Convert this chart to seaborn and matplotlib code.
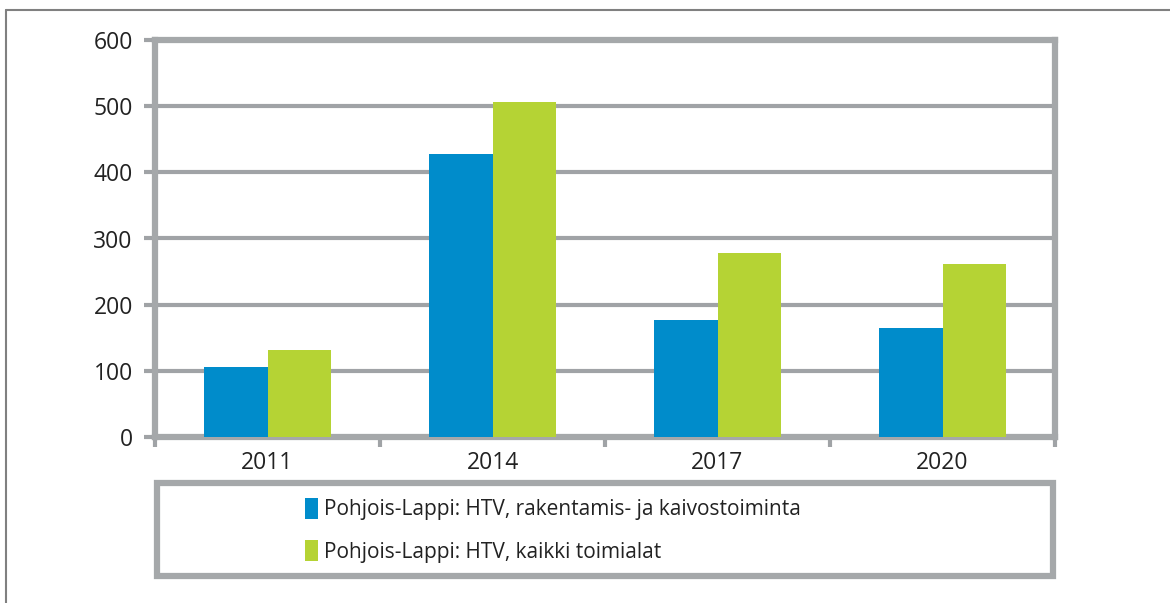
import matplotlib
matplotlib.use("Agg")
import matplotlib.pyplot as plt
import seaborn as sns
import pandas as pd
from matplotlib.patches import Rectangle
from matplotlib.lines import Line2D

years = ["2011", "2014", "2017", "2020"]
series_names = ["Pohjois-Lappi: HTV, rakentamis- ja kaivostoiminta",
                "Pohjois-Lappi: HTV, kaikki toimialat"]
construction_mining = [106, 427, 177, 165]
all_industries = [131, 506, 278, 261]
colors = ["#008CCB", "#B5D334"]
yticks = [0, 100, 200, 300, 400, 500, 600]

df = pd.DataFrame({
    "year": years * 2,
    "value": construction_mining + all_industries,
    "series": [series_names[0]] * 4 + [series_names[1]] * 4,
})

sns.set_theme(style="white")
plt.rcParams['font.family'] = ['Open Sans', 'DejaVu Sans']

W, H = 1170, 603
fig = plt.figure(figsize=(W / 100, H / 100), dpi=100)
ax = fig.add_axes([155 / W, 1 - 437 / H, 900 / W, 397 / H])

grid_c = "#A0A3A6"
sns.barplot(data=df, x="year", y="value", hue="series", palette=colors,
            width=0.565, saturation=1, ax=ax, legend=True, zorder=3,
            linewidth=0, edgecolor="none")

ax.set_ylim(0, 600)
ax.set_xlim(-0.5, 3.5)
ax.set_yticks(yticks)
ax.set_yticklabels([str(v) for v in yticks])
ax.yaxis.grid(True, color=grid_c, linewidth=3, zorder=0)
ax.set_axisbelow(True)
ax.set_xlabel("")
ax.set_ylabel("")
for s in ax.spines.values():
    s.set_color("#A5A8AA")
    s.set_linewidth(4.5)
ax.tick_params(axis="y", length=8, width=3, color=grid_c, labelsize=16.5,
               labelcolor="#222222", pad=8, left=True)
ax.tick_params(axis="x", which="major", length=0, labelsize=16.5,
               labelcolor="#222222", pad=10)
ax.set_xticks([-0.5, 0.5, 1.5, 2.5, 3.5], minor=True)
ax.tick_params(axis="x", which="minor", length=7, width=3, color=grid_c,
               bottom=True)

# legend box
fig.patches.append(Rectangle((157 / W, 1 - 576 / H), 896 / W, 93 / H,
                             transform=fig.transFigure, fill=False,
                             edgecolor="#A5A8AA", linewidth=4.5))
handles, labels = ax.get_legend_handles_labels()
ax.legend(handles, labels, loc="upper left",
          bbox_to_anchor=(305 / W, 1 - 498 / H), bbox_transform=fig.transFigure,
          frameon=False, fontsize=15, handlelength=0.6, handleheight=1.15,
          handletextpad=0.3, labelspacing=0.95, borderaxespad=0, borderpad=0,
          labelcolor="#222222")

# outer frame
fig.lines.append(Line2D([6 / W, 6 / W], [0, 1 - 10 / H], transform=fig.transFigure,
                        color="#808080", linewidth=1.5))
fig.lines.append(Line2D([6 / W, 1], [1 - 10 / H, 1 - 10 / H], transform=fig.transFigure,
                        color="#808080", linewidth=1.5))

fig.savefig("out.png", dpi=100)
